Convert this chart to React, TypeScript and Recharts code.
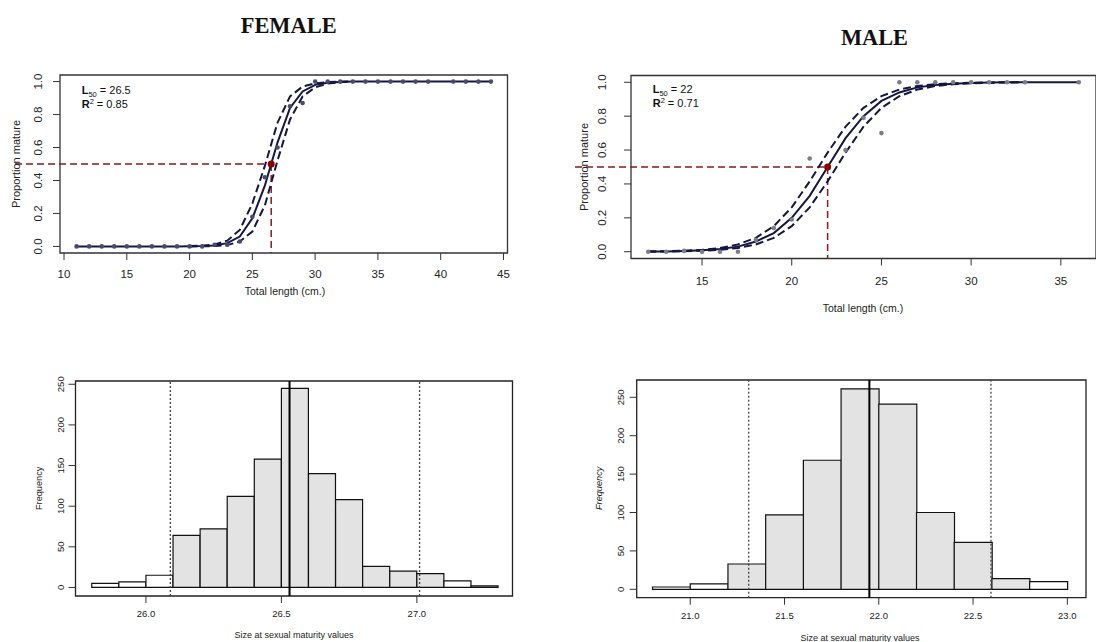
import React from 'react';
import {
  ComposedChart,
  Line,
  Scatter,
  Bar,
  Cell,
  XAxis,
  YAxis,
  ReferenceLine,
  ReferenceArea,
  ReferenceDot,
} from 'recharts';

const SANS = '"Liberation Sans", Arial, Helvetica, sans-serif';
const SERIF = '"Liberation Serif", "Times New Roman", serif';

// ---------- Female maturity ogive ----------
const femaleLengths = [11, 12, 13, 14, 15, 16, 17, 18, 19, 20, 21, 22, 23, 24, 25, 26, 27, 28, 29, 30, 31, 32, 33, 34, 35, 36, 37, 38, 39, 41, 42, 43, 44];
const femaleProportion = [0, 0, 0, 0, 0, 0, 0, 0, 0, 0, 0, 0.01, 0.01, 0.03, 0.18, 0.42, 0.6, 0.85, 0.87, 1, 1, 1, 1, 1, 1, 1, 1, 1, 1, 1, 1, 1, 1];
const femaleFitLengths = [11, 12, 13, 14, 15, 16, 17, 18, 19, 20, 21, 22, 23, 24, 25, 26, 27, 28, 29, 30, 31, 32, 33, 34, 35, 36, 37, 38, 39, 40, 41, 42, 43, 44];
const femaleFit = [0, 0, 0, 0, 0, 0, 0, 0, 0, 0.001, 0.002, 0.005, 0.02, 0.06, 0.17, 0.37, 0.63, 0.84, 0.94, 0.98, 0.993, 0.998, 1, 1, 1, 1, 1, 1, 1, 1, 1, 1, 1, 1];
const femaleBandLengths = [20, 21, 22, 23, 24, 25, 26, 27, 28, 29, 30, 31, 32, 33];
const femaleUpper = [0.002, 0.004, 0.012, 0.035, 0.1, 0.26, 0.49, 0.75, 0.91, 0.97, 0.99, 0.997, 1, 1];
const femaleLower = [0, 0.001, 0.002, 0.008, 0.03, 0.09, 0.25, 0.52, 0.77, 0.91, 0.965, 0.988, 0.996, 1];
const femaleL50 = 26.5;
const femaleR2 = 0.85;

// ---------- Male maturity ogive ----------
const maleLengths = [12, 13, 14, 15, 16, 17, 18, 19, 20, 21, 23, 24, 25, 26, 27, 28, 29, 30, 31, 32, 33, 36];
const maleProportion = [0, 0, 0.005, 0, 0, 0, 0.07, 0.14, 0.19, 0.55, 0.6, 0.79, 0.7, 1, 1, 1, 1, 1, 1, 1, 1, 1];
const maleFitLengths = [12, 13, 14, 15, 16, 17, 18, 19, 20, 21, 22, 23, 24, 25, 26, 27, 28, 29, 30, 31, 32, 33, 34, 35, 36];
const maleFit = [0.001, 0.002, 0.004, 0.008, 0.016, 0.03, 0.06, 0.11, 0.2, 0.33, 0.5, 0.67, 0.8, 0.89, 0.94, 0.97, 0.984, 0.992, 0.996, 0.998, 1, 1, 1, 1, 1];
const maleBandLengths = [12, 13, 14, 15, 16, 17, 18, 19, 20, 21, 22, 23, 24, 25, 26, 27, 28, 29, 30, 31, 32, 33];
const maleUpper = [0.001, 0.003, 0.006, 0.011, 0.022, 0.043, 0.082, 0.151, 0.262, 0.415, 0.585, 0.738, 0.849, 0.918, 0.957, 0.978, 0.989, 0.994, 0.997, 0.999, 1, 1];
const maleLower = [0.001, 0.001, 0.003, 0.006, 0.011, 0.022, 0.043, 0.082, 0.151, 0.262, 0.415, 0.585, 0.738, 0.849, 0.918, 0.957, 0.978, 0.989, 0.994, 0.997, 0.999, 1];
const maleL50 = 22;
const maleR2 = 0.71;

// ---------- Bootstrap histograms ----------
const femaleBinStarts = [25.8, 25.9, 26.0, 26.1, 26.2, 26.3, 26.4, 26.5, 26.6, 26.7, 26.8, 26.9, 27.0, 27.1, 27.2];
const femaleCounts = [5, 7, 15, 64, 72, 112, 158, 245, 140, 108, 26, 20, 17, 8, 2];
const femaleBinWidth = 0.1;
const femaleCI = [26.09, 27.01];
const femaleMedian = 26.53;

const maleBinStarts = [20.8, 21.0, 21.2, 21.4, 21.6, 21.8, 22.0, 22.2, 22.4, 22.6, 22.8];
const maleCounts = [3, 7, 33, 97, 168, 261, 241, 100, 61, 14, 10];
const maleBinWidth = 0.2;
const maleCI = [21.31, 22.595];
const maleMedian = 21.95;

// ---------- Tick labels ----------
const femaleOgiveTicks = [10, 15, 20, 25, 30, 35, 40, 45];
const maleOgiveTicks = [15, 20, 25, 30, 35];
const proportionTicks = [0, 0.2, 0.4, 0.6, 0.8, 1.0];
const femaleHistTicks = [26.0, 26.5, 27.0];
const maleHistTicks = [21.0, 21.5, 22.0, 22.5, 23.0];
const frequencyTicks = [0, 50, 100, 150, 200, 250];

type Pt = { x: number; y: number };
const zip = (xs: number[], ys: number[]): Pt[] => xs.map((x, i) => ({ x, y: ys[i] }));

const XTick = (props: any) => {
  const { x, y, payload, dy, fontSize, digits } = props;
  return (
    <text x={x} y={y + dy} textAnchor="middle" fontFamily={SANS} fontSize={fontSize} fill="#222">
      {Number(payload.value).toFixed(digits)}
    </text>
  );
};

const YTick = (props: any) => {
  const { x, y, payload, dx, fontSize, digits } = props;
  const bx = x + dx;
  return (
    <text
      x={bx}
      y={y}
      transform={`rotate(-90 ${bx} ${y})`}
      textAnchor="middle"
      fontFamily={SANS}
      fontSize={fontSize}
      fill="#222"
    >
      {Number(payload.value).toFixed(digits)}
    </text>
  );
};

const NAVY = '#161640';
const DARKRED = '#8b1a1a';

type OgiveCfg = {
  left: number;
  top: number;
  width: number;
  height: number;
  margin: { top: number; right: number; bottom: number; left: number };
  yAxisWidth: number;
  xDomain: [number, number];
  xTicks: number[];
  xTickDy: number;
  yTickDx: number;
  points: Pt[];
  fit: Pt[];
  upper: Pt[];
  lower: Pt[];
  l50: number;
  redStart: number;
  pointColor: string;
};

function Ogive({ cfg }: { cfg: OgiveCfg }) {
  const yDomain: [number, number] = [-0.04, 1.04];
  return (
    <div style={{ position: 'absolute', left: cfg.left, top: cfg.top }}>
      <ComposedChart width={cfg.width} height={cfg.height} margin={cfg.margin}>
        <XAxis
          type="number"
          dataKey="x"
          domain={cfg.xDomain}
          ticks={cfg.xTicks}
          allowDataOverflow
          interval={0}
          axisLine={false}
          tickLine={{ stroke: '#333' }}
          tickSize={7}
          tickMargin={0}
          height={40}
          tick={<XTick dy={cfg.xTickDy} fontSize={11.5} digits={0} />}
        />
        <YAxis
          type="number"
          dataKey="y"
          domain={yDomain}
          ticks={proportionTicks}
          allowDataOverflow
          interval={0}
          axisLine={false}
          tickLine={{ stroke: '#333' }}
          tickSize={7}
          tickMargin={0}
          width={cfg.yAxisWidth}
          tick={<YTick dx={cfg.yTickDx} fontSize={11.5} digits={1} />}
        />
        <ReferenceArea
          x1={cfg.xDomain[0]}
          x2={cfg.xDomain[1]}
          y1={yDomain[0]}
          y2={yDomain[1]}
          fill="none"
          stroke="#333"
          strokeWidth={1.3}
          ifOverflow="visible"
        />
        <ReferenceLine
          segment={[
            { x: cfg.redStart, y: 0.5 },
            { x: cfg.l50, y: 0.5 },
          ]}
          stroke={DARKRED}
          strokeWidth={1.5}
          strokeDasharray="7 4"
          ifOverflow="visible"
        />
        <ReferenceLine
          segment={[
            { x: cfg.l50, y: 0.5 },
            { x: cfg.l50, y: yDomain[0] },
          ]}
          stroke={DARKRED}
          strokeWidth={1.5}
          strokeDasharray="7 4"
          ifOverflow="visible"
        />
        <Scatter
          data={cfg.points}
          dataKey="y"
          isAnimationActive={false}
          shape={(p: any) => <circle cx={p.cx} cy={p.cy} r={2.3} fill={cfg.pointColor} />}
        />
        <Line data={cfg.lower} dataKey="y" stroke={NAVY} strokeWidth={2} strokeDasharray="8 4" dot={false} activeDot={false} isAnimationActive={false} />
        <Line data={cfg.upper} dataKey="y" stroke={NAVY} strokeWidth={2} strokeDasharray="8 4" dot={false} activeDot={false} isAnimationActive={false} />
        <Line data={cfg.fit} dataKey="y" stroke={NAVY} strokeWidth={2} dot={false} activeDot={false} isAnimationActive={false} />
        <ReferenceDot x={cfg.l50} y={0.5} r={3.5} fill="#8b0000" stroke="none" ifOverflow="visible" />
      </ComposedChart>
    </div>
  );
}

type HistCfg = {
  left: number;
  top: number;
  width: number;
  height: number;
  margin: { top: number; right: number; bottom: number; left: number };
  yAxisWidth: number;
  xDomain: [number, number];
  yDomain: [number, number];
  xTicks: number[];
  xTickDy: number;
  yTickDx: number;
  starts: number[];
  counts: number[];
  binWidth: number;
  ci: number[];
  median: number;
};

function Hist({ cfg }: { cfg: HistCfg }) {
  const rows = cfg.starts.map((s, i) => ({
    mid: s + cfg.binWidth / 2,
    count: cfg.counts[i],
    shaded: s + cfg.binWidth > cfg.ci[0] + 0.02 && s < cfg.ci[1] + 0.03,
  }));
  return (
    <div style={{ position: 'absolute', left: cfg.left, top: cfg.top }}>
      <ComposedChart width={cfg.width} height={cfg.height} margin={cfg.margin} data={rows} barCategoryGap={0} barGap={0}>
        <XAxis
          type="number"
          dataKey="mid"
          domain={cfg.xDomain}
          ticks={cfg.xTicks}
          allowDataOverflow
          interval={0}
          axisLine={false}
          tickLine={{ stroke: '#333' }}
          tickSize={7}
          tickMargin={0}
          height={40}
          tick={<XTick dy={cfg.xTickDy} fontSize={9.5} digits={1} />}
        />
        <YAxis
          type="number"
          domain={cfg.yDomain}
          ticks={frequencyTicks}
          allowDataOverflow
          interval={0}
          axisLine={false}
          tickLine={{ stroke: '#333' }}
          tickSize={7}
          tickMargin={0}
          width={cfg.yAxisWidth}
          tick={<YTick dx={cfg.yTickDx} fontSize={9.5} digits={0} />}
        />
        <Bar dataKey="count" stroke="#111" strokeWidth={1.2} isAnimationActive={false}>
          {rows.map((r, i) => (
            <Cell key={i} fill={r.shaded ? '#e3e3e3' : '#ffffff'} />
          ))}
        </Bar>
        <ReferenceLine x={cfg.ci[0]} stroke="#444" strokeWidth={1.3} strokeDasharray="2 2" />
        <ReferenceLine x={cfg.ci[1]} stroke="#444" strokeWidth={1.3} strokeDasharray="2 2" />
        <ReferenceLine x={cfg.median} stroke="#000" strokeWidth={2} />
        <ReferenceArea
          x1={cfg.xDomain[0]}
          x2={cfg.xDomain[1]}
          y1={cfg.yDomain[0]}
          y2={cfg.yDomain[1]}
          fill="none"
          stroke="#222"
          strokeWidth={1.3}
          ifOverflow="visible"
        />
      </ComposedChart>
    </div>
  );
}

const femaleOgive: OgiveCfg = {
  left: 0,
  top: 60,
  width: 540,
  height: 250,
  margin: { top: 15, right: 32.5, bottom: 17, left: 0 },
  yAxisWidth: 60,
  xDomain: [9.68, 45.32],
  xTicks: femaleOgiveTicks,
  xTickDy: 18.3,
  yTickDx: -10.6,
  points: zip(femaleLengths, femaleProportion),
  fit: zip(femaleFitLengths, femaleFit),
  upper: zip(femaleBandLengths, femaleUpper),
  lower: zip(femaleBandLengths, femaleLower),
  l50: femaleL50,
  redStart: 6.1,
  pointColor: '#4a4a6e',
};

const maleOgive: OgiveCfg = {
  left: 560,
  top: 60,
  width: 536,
  height: 260,
  margin: { top: 15.5, right: 0, bottom: 21.5, left: 0 },
  yAxisWidth: 71,
  xDomain: [11.04, 36.96],
  xTicks: maleOgiveTicks,
  xTickDy: 19.5,
  yTickDx: -18.2,
  points: zip(maleLengths, maleProportion),
  fit: zip(maleFitLengths, maleFit),
  upper: zip(maleBandLengths, maleUpper),
  lower: zip(maleBandLengths, maleLower),
  l50: maleL50,
  redStart: 7.92,
  pointColor: '#7d7d86',
};

const femaleHist: HistCfg = {
  left: 0,
  top: 340,
  width: 540,
  height: 302,
  margin: { top: 41, right: 27.5, bottom: 6, left: 0 },
  yAxisWidth: 75.5,
  xDomain: [25.74, 27.353],
  yDomain: [-10.5, 254],
  xTicks: femaleHistTicks,
  xTickDy: 13.7,
  yTickDx: -4.8,
  starts: femaleBinStarts,
  counts: femaleCounts,
  binWidth: femaleBinWidth,
  ci: femaleCI,
  median: femaleMedian,
};

const maleHist: HistCfg = {
  left: 560,
  top: 340,
  width: 536,
  height: 302,
  margin: { top: 40, right: 10, bottom: 4.3, left: 0 },
  yAxisWidth: 76.7,
  xDomain: [20.716, 23.099],
  yDomain: [-10.9, 272.5],
  xTicks: maleHistTicks,
  xTickDy: 14.6,
  yTickDx: -5.7,
  starts: maleBinStarts,
  counts: maleCounts,
  binWidth: maleBinWidth,
  ci: maleCI,
  median: maleMedian,
};

function StatLabel({ x, y, l50, r2 }: { x: number; y: number; l50: number; r2: number }) {
  return (
    <g fontFamily={SANS} fill="#111">
      <text x={x} y={y} fontSize={11}>
        <tspan fontWeight="bold">L</tspan>
        <tspan fontSize={7.5} dy={3}>50</tspan>
        <tspan dy={-3}>{` = ${l50}`}</tspan>
      </text>
      <text x={x} y={y + 14} fontSize={11}>
        <tspan fontWeight="bold">R</tspan>
        <tspan fontSize={7.5} dy={-4}>2</tspan>
        <tspan dy={4}>{` = ${r2}`}</tspan>
      </text>
    </g>
  );
}

export default function App() {
  return (
    <div style={{ position: 'absolute', left: 0, top: 0, width: 1096, height: 642, background: '#fff', overflow: 'hidden' }}>
      <Ogive cfg={femaleOgive} />
      <Ogive cfg={maleOgive} />
      <Hist cfg={femaleHist} />
      <Hist cfg={maleHist} />
      <svg width={1096} height={642} style={{ position: 'absolute', left: 0, top: 0, pointerEvents: 'none' }}>
        <text x={288.7} y={33} textAnchor="middle" fontFamily={SERIF} fontWeight="bold" fontSize={24} textLength={96} lengthAdjust="spacingAndGlyphs" fill="#111">
          FEMALE
        </text>
        <text x={874.5} y={45} textAnchor="middle" fontFamily={SERIF} fontWeight="bold" fontSize={24} textLength={67} lengthAdjust="spacingAndGlyphs" fill="#111">
          MALE
        </text>

        <text x={285} y={294.5} textAnchor="middle" fontFamily={SANS} fontSize={10.5} fill="#222">
          Total length (cm.)
        </text>
        <text x={863} y={311.5} textAnchor="middle" fontFamily={SANS} fontSize={10.5} fill="#222">
          Total length (cm.)
        </text>
        <text x={19.6} y={164} transform="rotate(-90 19.6 164)" textAnchor="middle" fontFamily={SANS} fontSize={11} fill="#222">
          Proportion mature
        </text>
        <text x={588} y={167} transform="rotate(-90 588 167)" textAnchor="middle" fontFamily={SANS} fontSize={11} fill="#222">
          Proportion mature
        </text>

        <text x={294} y={638} textAnchor="middle" fontFamily={SANS} fontSize={9} fill="#222">
          Size at sexual maturity values
        </text>
        <text x={860} y={640.5} textAnchor="middle" fontFamily={SANS} fontSize={9} fill="#222">
          Size at sexual maturity values
        </text>
        <text x={41.6} y={488.3} transform="rotate(-90 41.6 488.3)" textAnchor="middle" fontFamily={SANS} fontSize={9.2} fill="#222">
          Frequency
        </text>
        <text x={601.6} y={488.3} transform="rotate(-90 601.6 488.3)" textAnchor="middle" fontFamily={SANS} fontSize={9.2} fontStyle="italic" fill="#222">
          Frequency
        </text>

        <StatLabel x={81.7} y={94.3} l50={femaleL50} r2={femaleR2} />
        <StatLabel x={652.7} y={92.7} l50={maleL50} r2={maleR2} />
      </svg>
    </div>
  );
}
